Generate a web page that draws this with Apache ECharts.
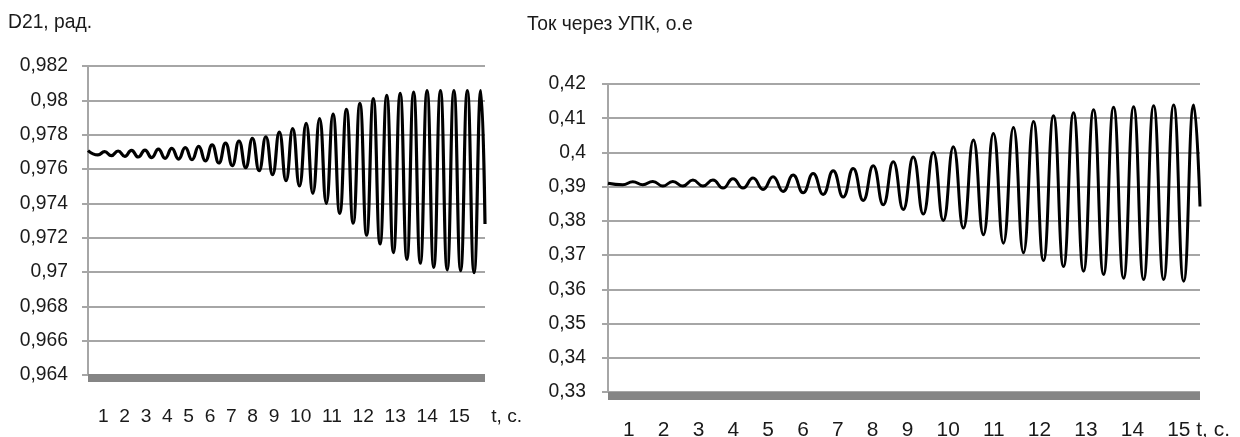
<!DOCTYPE html>
<html><head><meta charset="utf-8">
<script src="https://cdn.jsdelivr.net/npm/echarts@6/dist/echarts.min.js"></script>
<style>html,body{margin:0;padding:0;background:#fff}#c{width:1240px;height:437px}</style>
</head><body><div id="c"></div>
<script>
// ---- texts ----
const leftTitle = 'D21, рад.';
const rightTitle = 'Ток через УПК, о.е';
const xTickLabels = ['1','2','3','4','5','6','7','8','9','10','11','12','13','14','15'];
const xAxisName = 't, c.';

// ---- time axis (seconds) ----
const T_START = 0, T_END = 16;
const T_FIRST_EXT = 0.40;   // time of first extremum
const T_HALF = 0.2707;      // half period of oscillation (sampling of extrema)

// ---- D21 (rad): successive troughs and peaks ----
const d21Start = 0.97707, d21End = 0.9728;
const d21Troughs = [0.97682,0.97678,0.97674,0.97670,0.97666,0.97662,0.97658,0.97654,0.97647,0.97635,
  0.97620,0.97608,0.97590,0.97567,0.97532,0.97501,0.97458,0.97400,0.97342,0.97284,
  0.97214,0.97163,0.97113,0.97074,0.97051,0.97027,0.97012,0.97008,0.96996];
const d21Peaks = [0.97701,0.97705,0.97709,0.97710,0.97716,0.97720,0.97724,0.97732,0.97740,0.97751,
  0.97763,0.97778,0.97788,0.97815,0.97835,0.97866,0.97893,0.97920,0.97947,0.97982,
  0.98010,0.98029,0.98041,0.98048,0.98056,0.98056,0.98056,0.98056,0.98056];

// ---- Current through UPK (p.u.) ----
const curStart = 0.3910, curEnd = 0.3842;
const curTroughs = [0.39056,0.39056,0.39017,0.39017,0.39017,0.38958,0.38958,0.38919,0.38861,0.38822,
  0.38773,0.38695,0.38597,0.38471,0.38334,0.38198,0.38013,0.37789,0.37594,0.37350,
  0.37067,0.36843,0.36668,0.36531,0.36434,0.36327,0.36288,0.36288,0.36239];
const curPeaks = [0.39143,0.39153,0.39153,0.39192,0.39192,0.39231,0.39251,0.39290,0.39338,0.39387,
  0.39465,0.39533,0.39611,0.39728,0.39865,0.40001,0.40167,0.40362,0.40557,0.40732,
  0.40907,0.41073,0.41161,0.41249,0.41317,0.41336,0.41365,0.41385,0.41385];

function buildSeries(start, troughs, peaks, end) {
  const pts = [[T_START, start]];
  for (let k = 0; k < troughs.length; k++) {
    pts.push([T_FIRST_EXT + 2 * k * T_HALF, troughs[k]]);
    pts.push([T_FIRST_EXT + (2 * k + 1) * T_HALF, peaks[k]]);
  }
  pts.push([T_END, end]);
  return pts;
}

const FONT = 'Liberation Sans';
const TXT = '#1a1a1a';
const GRIDC = '#a6a6a6';
const fmt = d => v => String(parseFloat(v.toFixed(d))).replace('.', ',');

function yAxis(gi, min, max, interval, dec, margin) {
  return {
    type: 'value', gridIndex: gi, min, max, interval,
    axisLine: { show: true, lineStyle: { color: GRIDC, width: 2 } },
    axisTick: { show: true, length: 6, lineStyle: { color: GRIDC, width: 2 } },
    splitLine: { show: true, lineStyle: { color: GRIDC, width: 2 } },
    axisLabel: { margin, color: TXT, fontFamily: FONT, fontSize: 19.3, formatter: fmt(dec) }
  };
}
function xAxis(gi, offset) {
  return {
    type: 'value', gridIndex: gi, min: T_START, max: T_END, offset,
    axisLine: { show: true, onZero: false, lineStyle: { color: '#858585', width: 8, cap: 'butt' } },
    axisTick: { show: false }, axisLabel: { show: false }, splitLine: { show: false }
  };
}

const chart = echarts.init(document.getElementById('c'), null, { renderer: 'canvas' });
chart.setOption({
  animation: false,
  backgroundColor: '#fff',
  grid: [
    { left: 88, top: 66, width: 397, height: 309 },
    { left: 608, top: 84, width: 592, height: 308 }
  ],
  xAxis: [xAxis(0, 3), xAxis(1, 4)],
  yAxis: [yAxis(0, 0.964, 0.982, 0.002, 3, 20), yAxis(1, 0.33, 0.42, 0.01, 2, 22)],
  series: [
    { type: 'line', xAxisIndex: 0, yAxisIndex: 0, data: buildSeries(d21Start, d21Troughs, d21Peaks, d21End),
      smooth: 0.5, showSymbol: false, lineStyle: { color: '#000', width: 3.2 } },
    { type: 'line', xAxisIndex: 1, yAxisIndex: 1, data: buildSeries(curStart, curTroughs, curPeaks, curEnd),
      smooth: 0.5, showSymbol: false, lineStyle: { color: '#000', width: 3 } }
  ],
  graphic: [
    { type: 'text', x: 8, y: 23, style: { text: leftTitle, fill: TXT, fontFamily: FONT, fontSize: 19.3, textAlign: 'left', textVerticalAlign: 'middle' } },
    { type: 'text', x: 527, y: 25, style: { text: rightTitle, fill: TXT, fontFamily: FONT, fontSize: 19.3, textAlign: 'left', textVerticalAlign: 'middle' } },
    { type: 'text', x: 98, y: 417, style: { text: xTickLabels.join('  ') + '    ' + xAxisName, fill: TXT, fontFamily: FONT, fontSize: 19.2, textAlign: 'left', textVerticalAlign: 'middle' } },
    { type: 'text', x: 623, y: 430, style: { text: xTickLabels.join('    ') + ' ' + xAxisName, fill: TXT, fontFamily: FONT, fontSize: 20.9, textAlign: 'left', textVerticalAlign: 'middle' } }
  ]
});
</script></body></html>
